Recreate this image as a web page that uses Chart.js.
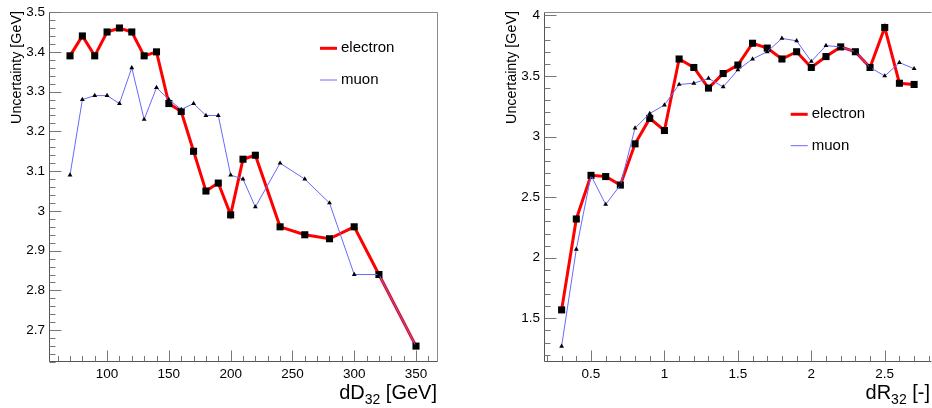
<!DOCTYPE html>
<html>
<head>
<meta charset="utf-8">
<script src="https://cdn.jsdelivr.net/npm/chart.js@4.4.1/dist/chart.umd.min.js"></script>
<style>
	html, body { margin: 0; padding: 0; background: #fff; overflow: hidden; }
	#wrap { position: relative; width: 932px; height: 408px; overflow: hidden; }
	canvas { position: absolute; top: 0; }
	#dDChart { left: 0; }
	#dRChart { left: 466px; }
</style>
</head>
<body>
<div id="wrap">
	<canvas id="dDChart" width="466" height="408"></canvas>
	<canvas id="dRChart" width="470" height="408"></canvas>
</div>
<script>
// left pad: uncertainty vs dD32
const DD_VALUES = [70, 80, 90, 100, 110, 120, 130, 140, 150, 160, 170, 180, 190, 200, 210, 220, 240, 260, 280, 300, 320, 350];
const DD_ELECTRON = [3.39, 3.44, 3.39, 3.45, 3.46, 3.45, 3.39, 3.40, 3.27, 3.25, 3.15, 3.05, 3.07, 2.99, 3.13, 3.14, 2.96, 2.94, 2.93, 2.96, 2.84, 2.66];
const DD_MUON = [3.09, 3.28, 3.29, 3.29, 3.27, 3.36, 3.23, 3.31, 3.28, 3.255, 3.27, 3.24, 3.24, 3.09, 3.08, 3.01, 3.12, 3.08, 3.02, 2.84, 2.84, 2.66];
const DD_X_TICKS = [100, 150, 200, 250, 300, 350];
const DD_Y_TICKS = [2.7, 2.8, 2.9, 3, 3.1, 3.2, 3.3, 3.4, 3.5];

// right pad: uncertainty vs dR32
const DR_VALUES = [0.3, 0.4, 0.5, 0.6, 0.7, 0.8, 0.9, 1.0, 1.1, 1.2, 1.3, 1.4, 1.5, 1.6, 1.7, 1.8, 1.9, 2.0, 2.1, 2.2, 2.3, 2.4, 2.5, 2.6, 2.7];
const DR_ELECTRON = [1.57, 2.32, 2.68, 2.67, 2.60, 2.94, 3.15, 3.05, 3.64, 3.57, 3.40, 3.52, 3.59, 3.77, 3.73, 3.64, 3.70, 3.57, 3.66, 3.74, 3.70, 3.57, 3.90, 3.44, 3.43];
const DR_MUON = [1.27, 2.07, 2.68, 2.44, 2.60, 3.07, 3.19, 3.26, 3.43, 3.44, 3.48, 3.41, 3.55, 3.64, 3.70, 3.81, 3.79, 3.62, 3.75, 3.74, 3.70, 3.57, 3.50, 3.61, 3.56];
const DR_X_TICKS = [0.5, 1, 1.5, 2, 2.5];
const DR_Y_TICKS = [1.5, 2, 2.5, 3, 3.5, 4];

const SERIES_LABELS = ['electron', 'muon'];
const FONT = "'Liberation Sans', Arial, Helvetica, sans-serif";

function minorValues(min, max, step) {
	const out = [];
	const k0 = Math.ceil(min / step - 1e-9);
	const k1 = Math.floor(max / step + 1e-9);
	for (let k = k0; k <= k1; k++) {
		out.push(+(k * step).toFixed(6));
	}
	return out;
}

const rootFramePlugin = {
	id: 'rootFrame',
	beforeDatasetsDraw(chart, args, opts) {
		const { ctx, chartArea: a, scales: { x, y } } = chart;
		const left = Math.round(a.left) + 0.5;
		const bottom = Math.round(a.bottom) - 0.5;
		const top = Math.round(a.top) + 0.5;
		const right = Math.round(a.right) + 0.5;
		ctx.save();
		ctx.lineWidth = 1;
		// top / right frame
		ctx.strokeStyle = '#8a8a8a';
		ctx.beginPath();
		ctx.moveTo(left, top);
		ctx.lineTo(right, top);
		if (opts.drawRight) {
			ctx.lineTo(right, bottom);
		}
		ctx.stroke();
		// axes
		ctx.strokeStyle = '#555';
		ctx.beginPath();
		ctx.moveTo(left, top);
		ctx.lineTo(left, bottom);
		ctx.lineTo(right, bottom);
		ctx.stroke();
		// ticks, pointing into the frame
		ctx.strokeStyle = '#777';
		ctx.beginPath();
		const xMajor = opts.xTicks;
		const yMajor = opts.yTicks;
		minorValues(x.min, x.max, opts.xMinor).forEach(v => {
			const px = Math.round(x.getPixelForValue(v)) + 0.5;
			const len = xMajor.some(t => Math.abs(t - v) < 1e-6) ? 11 : 5.5;
			ctx.moveTo(px, bottom);
			ctx.lineTo(px, bottom - len);
		});
		minorValues(y.min, y.max, opts.yMinor).forEach(v => {
			const py = Math.round(y.getPixelForValue(v)) + 0.5;
			const len = yMajor.some(t => Math.abs(t - v) < 1e-6) ? 12 : 6;
			ctx.moveTo(left, py);
			ctx.lineTo(left + len, py);
		});
		ctx.stroke();
		ctx.restore();
	},
	afterDraw(chart, args, opts) {
		const { ctx, chartArea: a } = chart;
		ctx.save();
		ctx.fillStyle = '#000';

		// x title with subscript, right aligned to the frame
		const t = opts.xTitle;
		const base = opts.xTitleBaseline;
		ctx.textBaseline = 'alphabetic';
		ctx.textAlign = 'left';
		ctx.font = '20px ' + FONT;
		const wMain = ctx.measureText(t.main).width;
		const wRest = ctx.measureText(t.rest).width;
		ctx.font = '14px ' + FONT;
		const wSub = ctx.measureText(t.sub).width;
		const xs = opts.xTitleRight - wRest - wSub - wMain;
		ctx.font = '20px ' + FONT;
		ctx.fillText(t.main, xs, base);
		ctx.font = '14px ' + FONT;
		ctx.fillText(t.sub, xs + wMain, base + 4.5);
		ctx.font = '20px ' + FONT;
		ctx.fillText(t.rest, xs + wMain + wSub, base);

		// y title, rotated, ending at the top of the frame
		ctx.save();
		ctx.translate(opts.yTitleX, a.top - 1);
		ctx.rotate(-Math.PI / 2);
		ctx.textAlign = 'right';
		ctx.font = '14.3px ' + FONT;
		ctx.fillText(opts.yTitle, 0, 0);
		ctx.restore();

		// legend
		const lg = opts.legend;
		ctx.font = '15px ' + FONT;
		ctx.textAlign = 'left';
		ctx.textBaseline = 'middle';
		chart.data.datasets.forEach((ds, i) => {
			const ly = lg.y[i];
			ctx.strokeStyle = ds.borderColor;
			ctx.lineWidth = ds.borderWidth;
			ctx.beginPath();
			ctx.moveTo(lg.x, ly);
			ctx.lineTo(lg.x + 17, ly);
			ctx.stroke();
			ctx.fillText(ds.label, lg.x + 21, ly);
		});
		ctx.restore();
	},
};

function makeChart(canvasId, cfg) {
	const ctx = document.getElementById(canvasId).getContext('2d');
	const toPoints = ys => cfg.xs.map((v, i) => ({ x: v, y: ys[i] }));
	return new Chart(ctx, {
		type: 'line',
		data: {
			datasets: [
				{
					label: SERIES_LABELS[0],
					data: toPoints(cfg.electron),
					borderColor: '#ff0000',
					borderWidth: 3,
					pointStyle: 'rect',
					pointRadius: 5,
					pointBackgroundColor: '#000',
					pointBorderWidth: 0,
					tension: 0,
					order: 2,
				},
				{
					label: SERIES_LABELS[1],
					data: toPoints(cfg.muon),
					borderColor: '#6868ff',
					borderWidth: 1,
					pointStyle: 'triangle',
					pointRadius: 2.8,
					pointBackgroundColor: '#000',
					pointBorderWidth: 0,
					tension: 0,
					order: 1,
				},
			],
		},
		options: {
			responsive: false,
			animation: false,
			devicePixelRatio: 1,
			layout: {
				padding: { top: 9, right: cfg.padRight, left: 0, bottom: 0 },
			},
			scales: {
				x: {
					type: 'linear',
					min: cfg.xMin,
					max: cfg.xMax,
					grid: { display: false, drawTicks: false },
					border: { display: false },
					afterBuildTicks: axis => {
						axis.ticks = cfg.xTicks.map(v => ({ value: v }));
					},
					afterFit: axis => {
						axis.height = 46;
					},
					ticks: {
						padding: 4,
						color: '#000',
						font: { family: FONT, size: 13.5 },
						maxRotation: 0,
						autoSkip: false,
						callback: v => String(v),
					},
				},
				y: {
					type: 'linear',
					min: cfg.yMin,
					max: cfg.yMax,
					grid: { display: false, drawTicks: false },
					border: { display: false },
					afterBuildTicks: axis => {
						axis.ticks = cfg.yTicks.map(v => ({ value: v }));
					},
					afterFit: axis => {
						axis.width = cfg.yAxisWidth;
					},
					ticks: {
						padding: 4,
						color: '#000',
						font: { family: FONT, size: 13.5 },
						autoSkip: false,
						callback: v => String(v),
					},
				},
			},
			plugins: {
				legend: { display: false },
				tooltip: { enabled: false },
				rootFrame: {
					xTicks: cfg.xTicks,
					yTicks: cfg.yTicks,
					xMinor: cfg.xMinor,
					yMinor: cfg.yMinor,
					drawRight: cfg.drawRight,
					xTitle: cfg.xTitle,
					xTitleRight: cfg.xTitleRight,
					xTitleBaseline: 399,
					yTitle: 'Uncertainty [GeV]',
					yTitleX: cfg.yTitleX,
					legend: cfg.legend,
				},
			},
		},
		plugins: [rootFramePlugin],
	});
}

const dDChart = makeChart('dDChart', {
	xs: DD_VALUES,
	electron: DD_ELECTRON,
	muon: DD_MUON,
	xTicks: DD_X_TICKS,
	yTicks: DD_Y_TICKS,
	xMin: 53,
	xMax: 367,
	yMin: 2.62,
	yMax: 3.5,
	xMinor: 10,
	yMinor: 0.02,
	padRight: 29,
	drawRight: true,
	yAxisWidth: 49,
	yTitleX: 20.7,
	xTitle: { main: 'dD', sub: '32', rest: ' [GeV]' },
	xTitleRight: 437,
	legend: { x: 320, y: [48.3, 80] },
});

const dRChart = makeChart('dRChart', {
	xs: DR_VALUES,
	electron: DR_ELECTRON,
	muon: DR_MUON,
	xTicks: DR_X_TICKS,
	yTicks: DR_Y_TICKS,
	xMin: 0.18,
	xMax: 2.815,
	yMin: 1.14,
	yMax: 4.027,
	xMinor: 0.1,
	yMinor: 0.1,
	padRight: 3,
	drawRight: false,
	yAxisWidth: 78,
	yTitleX: 50,
	xTitle: { main: 'dR', sub: '32', rest: ' [-]' },
	xTitleRight: 464,
	legend: { x: 324.7, y: [114.3, 145.7] },
});
</script>
</body>
</html>
